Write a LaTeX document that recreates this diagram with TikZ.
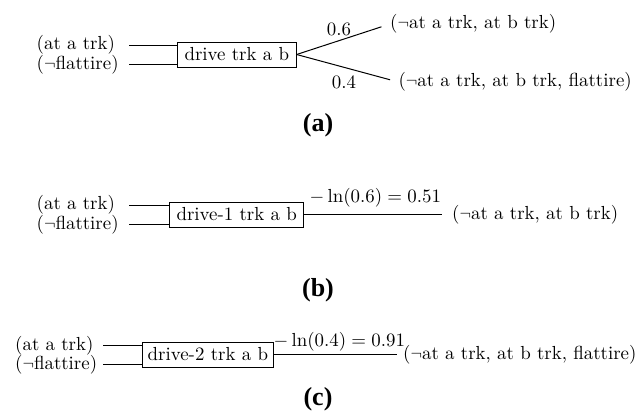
\documentclass[tikz,border=0pt]{standalone}
\usepackage{fontspec}
\usepackage{graphicx}
% keep the 10pt design size when the text is set large
\setmainfont{lmroman10-regular.otf}[BoldFont=lmroman10-bold.otf, ItalicFont=lmroman10-italic.otf]
\newfontfamily\capfont{Liberation Serif}
\newcommand\costlabel[1]{\scalebox{1.89}{$#1$}}
\begin{document}
\begin{tikzpicture}[x=1pt,y=-1pt,
  every node/.style={font=\fontsize{18.9}{22}\selectfont, inner sep=0pt},
  cond/.style={anchor=west},
  act/.style={draw, line width=1pt, anchor=west, minimum height=25pt, inner xsep=7pt},
  wire/.style={line width=1pt},
  cost/.style={anchor=base west, font=\fontsize{10}{12}\selectfont},
  panel/.style={font=\fontsize{26}{30}\selectfont\capfont\bfseries}]
\useasboundingbox (0,0) rectangle (636,413);

% (a) probabilistic action with two outcomes
\node[cond] (a1) at (36.5,45) {(at a trk)};
\node[cond] (a2) at (36.5,64.5) {($\neg$flattire)};
\node[act] (aa) at (177,54.5) {drive trk a b};
\coordinate (a1s) at (129,45);
\coordinate (a2s) at (129,64.5);
\draw[wire] (a1s) -- (a1s -| aa.west);
\draw[wire] (a2s) -- (a2s -| aa.west);
\node[cond] (ao1) at (390,24) {($\neg$at a trk, at b trk)};
\node[cond] (ao2) at (398.3,82) {($\neg$at a trk, at b trk, flattire)};
\draw[wire, shorten >=9pt] (aa.east) -- (ao1.west);
\draw[wire, shorten >=8.5pt] (aa.east) -- (ao2.west);
\node (ap1) at (339,29) {0.6};
\node (ap2) at (344,82) {0.4};
\node[panel] (la) at (318,125) {(a)};

% (b) determinised action for the first outcome
\node[cond] (b1) at (36.5,205) {(at a trk)};
\node[cond] (b2) at (36.5,224.5) {($\neg$flattire)};
\node[act] (bb) at (169,214.5) {drive-1 trk a b};
\coordinate (b1s) at (129,205);
\coordinate (b2s) at (129,224.5);
\draw[wire] (b1s) -- (b1s -| bb.west);
\draw[wire] (b2s) -- (b2s -| bb.west);
\node[cond] (bo) at (452,214.5) {($\neg$at a trk, at b trk)};
\draw[wire, shorten >=10pt] (bb.east) -- (bo.west);
\node[cost] (bc) at (309.5,202) {\costlabel{-\ln(0.6)=0.51}};
\node[panel] (lb) at (318,290) {(b)};

% (c) determinised action for the second outcome
\node[cond] (c1) at (15,345.5) {(at a trk)};
\node[cond] (c2) at (15,364.5) {($\neg$flattire)};
\node[act, inner xsep=5.5pt] (cc) at (141.7,354.5) {drive-2 trk a b};
\coordinate (c1s) at (103.3,345.5);
\coordinate (c2s) at (103.3,364.5);
\draw[wire] (c1s) -- (c1s -| cc.west);
\draw[wire] (c2s) -- (c2s -| cc.west);
\node[cond] (co) at (403,354.5) {($\neg$at a trk, at b trk, flattire)};
\draw[wire, shorten >=6pt] (cc.east) -- (co.west);
\node[cost] (ccst) at (273.5,346) {\costlabel{-\ln(0.4)=0.91}};
\node[panel] (lc) at (318,399) {(c)};
\end{tikzpicture}
\end{document}
